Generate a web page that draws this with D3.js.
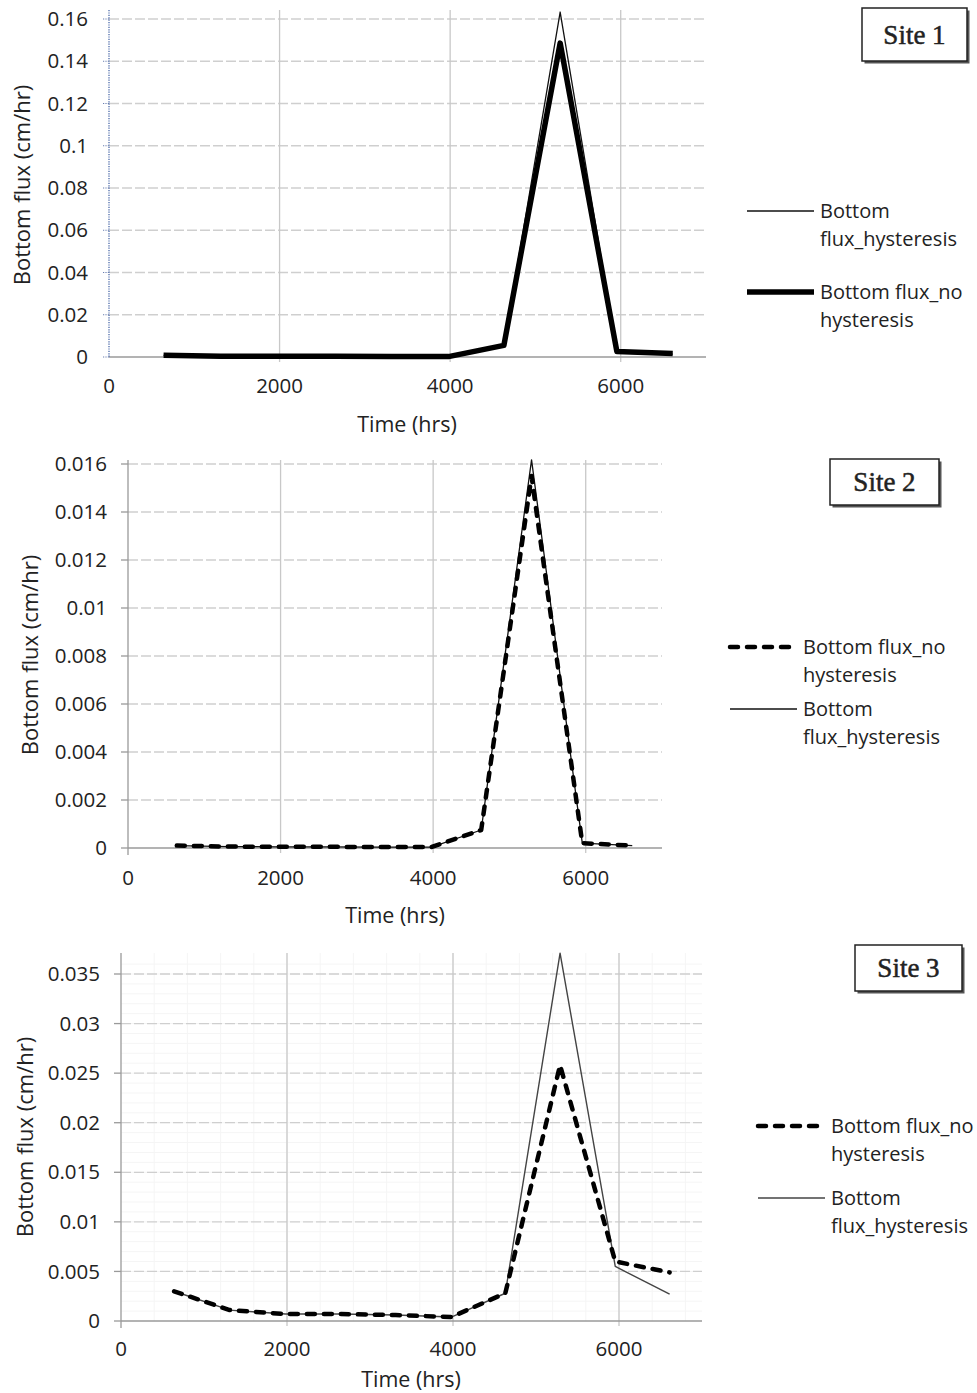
<!DOCTYPE html>
<html>
<head>
<meta charset="utf-8">
<script src="https://cdn.jsdelivr.net/npm/d3@7"></script>
<style>
  body { margin: 0; background: #fff; }
  text { font-family: "Open Sans", "Noto Sans", sans-serif; fill: #222; }
</style>
</head>
<body>
<div id="chart"></div>
<script>
// time of each output step (hrs)
const timeHrs = [640, 1310, 1980, 2650, 3310, 3980, 4630, 5290, 5955, 6610];

const site1Hyst   = [0.0008, 0.0004, 0.0003, 0.0003, 0.0002, 0.0002, 0.0057, 0.1633, 0.0024, 0.0014];
const site1NoHyst = [0.0008, 0.0004, 0.0003, 0.0003, 0.0002, 0.0002, 0.0055, 0.1486, 0.0026, 0.0016];

const site2Hyst   = [0.0001, 0.00006, 0.00005, 0.00005, 0.00004, 0.00004, 0.00075, 0.01617, 0.0002, 0.0001];
const site2NoHyst = [0.0001, 0.00006, 0.00005, 0.00005, 0.00004, 0.00004, 0.00075, 0.0155, 0.0002, 0.0001];

const site3Hyst   = [0.0030, 0.0011, 0.0007, 0.0007, 0.0006, 0.0004, 0.0028, 0.0371, 0.0055, 0.0027];
const site3NoHyst = [0.0030, 0.0011, 0.0007, 0.0007, 0.0006, 0.0004, 0.0028, 0.0258, 0.0060, 0.0049];

const xTicks = [0, 2000, 4000, 6000];
const site1Ticks = [0, 0.02, 0.04, 0.06, 0.08, 0.1, 0.12, 0.14, 0.16];
const site2Ticks = [0, 0.002, 0.004, 0.006, 0.008, 0.01, 0.012, 0.014, 0.016];
const site3Ticks = [0, 0.005, 0.01, 0.015, 0.02, 0.025, 0.03, 0.035];

const labelHyst = ["Bottom", "flux_hysteresis"];
const labelNoHyst = ["Bottom flux_no", "hysteresis"];

const W = 977, H = 1393;
const svg = d3.select("#chart").append("svg")
  .attr("width", W).attr("height", H);

const fmt = d => d === 0 ? "0" : String(+d.toFixed(4));

function drawPanel(p) {
  const g = svg.append("g").attr("class", "panel");
  const x = d3.scaleLinear().domain([0, 7000]).range([p.left, p.right]);
  const y = d3.scaleLinear().domain([0, p.ymax]).range([p.bottom, p.top]);
  const yTopPx = p.top - p.over;

  // faint minor grid
  if (p.minor) {
    g.append("g").selectAll("line")
      .data(d3.range(400, 7000, 400))
      .join("line")
      .attr("x1", d => x(d)).attr("x2", d => x(d))
      .attr("y1", yTopPx).attr("y2", p.bottom)
      .attr("stroke", "#f5f5f5").attr("stroke-width", 1);
    g.append("g").selectAll("line")
      .data(d3.range(1, Math.round(p.ymax / 0.001) + 2).map(i => i * 0.001))
      .join("line")
      .attr("x1", p.left).attr("x2", p.right)
      .attr("y1", d => y(d)).attr("y2", d => y(d))
      .attr("stroke", "#f5f5f5").attr("stroke-width", 1);
  }

  // horizontal grid (dashed)
  g.append("g").selectAll("line")
    .data(p.ticks.filter(d => d > 0))
    .join("line")
    .attr("x1", p.left).attr("x2", p.right)
    .attr("y1", d => y(d)).attr("y2", d => y(d))
    .attr("stroke", "#cfcfcf").attr("stroke-width", 1.3)
    .attr("stroke-dasharray", "10,3");

  // vertical grid
  g.append("g").selectAll("line")
    .data(xTicks.filter(d => d > 0))
    .join("line")
    .attr("x1", d => x(d)).attr("x2", d => x(d))
    .attr("y1", yTopPx).attr("y2", p.bottom + 5)
    .attr("stroke", "#c8c8c8").attr("stroke-width", 1.3);

  // x axis
  g.append("line")
    .attr("x1", p.left).attr("x2", p.right)
    .attr("y1", p.bottom).attr("y2", p.bottom)
    .attr("stroke", "#9a9a9a").attr("stroke-width", 1.3);

  g.append("g").selectAll("text")
    .data(xTicks)
    .join("text")
    .attr("x", d => x(d)).attr("y", p.bottom + p.tickOff)
    .attr("dy", "0.35em")
    .attr("text-anchor", "middle")
    .attr("font-size", 20.5)
    .text(d => d);

  // y axis
  if (p.dottedAxis) {
    g.append("line")
      .attr("x1", p.left).attr("x2", p.left)
      .attr("y1", yTopPx).attr("y2", p.bottom)
      .attr("stroke", "#3a5ba0").attr("stroke-width", 1.2)
      .attr("stroke-dasharray", "1.2,1.2");
    g.append("g").selectAll("line")
      .data(p.ticks)
      .join("line")
      .attr("x1", p.left - 6).attr("x2", p.left)
      .attr("y1", d => y(d)).attr("y2", d => y(d))
      .attr("stroke", "#6a7fb0").attr("stroke-width", 1.2)
      .attr("stroke-dasharray", "1.2,1.2");
  } else {
    g.append("line")
      .attr("x1", p.left).attr("x2", p.left)
      .attr("y1", yTopPx).attr("y2", p.bottom + 7)
      .attr("stroke", "#9a9a9a").attr("stroke-width", 1.3);
    g.append("g").selectAll("line")
      .data(p.ticks)
      .join("line")
      .attr("x1", p.left - 7).attr("x2", p.left)
      .attr("y1", d => y(d)).attr("y2", d => y(d))
      .attr("stroke", "#9a9a9a").attr("stroke-width", 1.3);
  }

  g.append("g").selectAll("text")
    .data(p.ticks)
    .join("text")
    .attr("x", p.left - 21).attr("y", d => y(d))
    .attr("dy", "0.35em")
    .attr("text-anchor", "end")
    .attr("font-size", 20.5)
    .text(fmt);

  // axis titles
  g.append("text")
    .attr("x", p.xTitleX).attr("y", p.bottom + p.titleOff)
    .attr("dy", "0.35em")
    .attr("text-anchor", "middle")
    .attr("font-size", 21.5)
    .text("Time (hrs)");

  g.append("text")
    .attr("transform", `translate(${p.yTitleX},${p.yTitleY}) rotate(-90)`)
    .attr("dy", "0.35em")
    .attr("text-anchor", "middle")
    .attr("font-size", 22)
    .text("Bottom flux (cm/hr)");

  // series
  const line = d3.line().x(d => x(d[0])).y(d => y(d[1]));
  p.series.forEach(s => {
    g.append("path")
      .datum(timeHrs.map((t, i) => [t, s.values[i]]))
      .attr("d", line)
      .attr("fill", "none")
      .attr("stroke", s.color)
      .attr("stroke-width", s.width)
      .attr("stroke-dasharray", s.dash || null)
      .attr("stroke-linejoin", "round")
      .attr("stroke-linecap", s.dash ? "round" : "butt");
  });

  // legend
  p.legend.forEach((s, i) => {
    const ly = p.legendY[i];
    g.append("line")
      .attr("x1", p.legendX).attr("x2", p.legendX + 67)
      .attr("y1", ly).attr("y2", ly)
      .attr("stroke", s.color)
      .attr("stroke-width", s.width)
      .attr("stroke-dasharray", s.dash || null)
      .attr("stroke-linecap", s.dash ? "round" : "butt");
    s.label.forEach((t, j) => {
      g.append("text")
        .attr("x", p.legendX + 73).attr("y", ly + j * 28)
        .attr("dy", "0.35em")
        .attr("font-size", 20)
        .text(t);
    });
  });

  // site box
  const b = p.box;
  g.append("rect")
    .attr("x", b.x + 2.5).attr("y", b.y + 2.5)
    .attr("width", b.w).attr("height", b.h)
    .attr("fill", "#555");
  g.append("rect")
    .attr("x", b.x).attr("y", b.y)
    .attr("width", b.w).attr("height", b.h)
    .attr("fill", "#fff").attr("stroke", "#222").attr("stroke-width", 1.5);
  g.append("text")
    .attr("x", b.x + b.w / 2).attr("y", b.y + b.h / 2)
    .attr("dy", "0.35em")
    .attr("text-anchor", "middle")
    .style("font-family", "'Liberation Serif', 'DejaVu Serif', serif")
    .attr("font-size", 27)
    .attr("stroke", "#222").attr("stroke-width", 0.5)
    .text(p.site);
}

const thin = { color: "#111", width: 1.3 };
const thinGray = { color: "#444", width: 1.4 };
const thick = { color: "#000", width: 5.5 };
const dashed = { color: "#000", width: 4.5, dash: "8,9" };

drawPanel({
  site: "Site 1", left: 109, right: 706, top: 19, bottom: 357, over: 9, ymax: 0.16,
  ticks: site1Ticks, dottedAxis: true, minor: false,
  tickOff: 29, titleOff: 67,
  xTitleX: 407, yTitleX: 22, yTitleY: 185,
  series: [
    Object.assign({ values: site1Hyst }, thin),
    Object.assign({ values: site1NoHyst }, thick)
  ],
  legend: [
    Object.assign({ label: labelHyst }, thin),
    Object.assign({ label: labelNoHyst }, thick)
  ],
  legendX: 747, legendY: [211, 292],
  box: { x: 862, y: 8, w: 105, h: 53 }
});

drawPanel({
  site: "Site 2", left: 128, right: 662, top: 464, bottom: 848, over: 4, ymax: 0.016,
  ticks: site2Ticks, dottedAxis: false, minor: false,
  tickOff: 30, titleOff: 67,
  xTitleX: 395, yTitleX: 30, yTitleY: 655,
  series: [
    Object.assign({ values: site2Hyst }, thin),
    Object.assign({ values: site2NoHyst }, dashed)
  ],
  legend: [
    Object.assign({ label: labelNoHyst }, dashed),
    Object.assign({ label: labelHyst }, thin)
  ],
  legendX: 730, legendY: [647, 709],
  box: { x: 830, y: 459, w: 109, h: 46 }
});

drawPanel({
  site: "Site 3", left: 121, right: 702, top: 974, bottom: 1321, over: 21, ymax: 0.035,
  ticks: site3Ticks, dottedAxis: false, minor: true,
  tickOff: 28, titleOff: 58,
  xTitleX: 411, yTitleX: 25, yTitleY: 1137,
  series: [
    Object.assign({ values: site3Hyst }, thinGray),
    Object.assign({ values: site3NoHyst }, dashed)
  ],
  legend: [
    Object.assign({ label: labelNoHyst }, dashed),
    Object.assign({ label: labelHyst }, thinGray)
  ],
  legendX: 758, legendY: [1126, 1198],
  box: { x: 855, y: 945, w: 107, h: 46 }
});
</script>
</body>
</html>
